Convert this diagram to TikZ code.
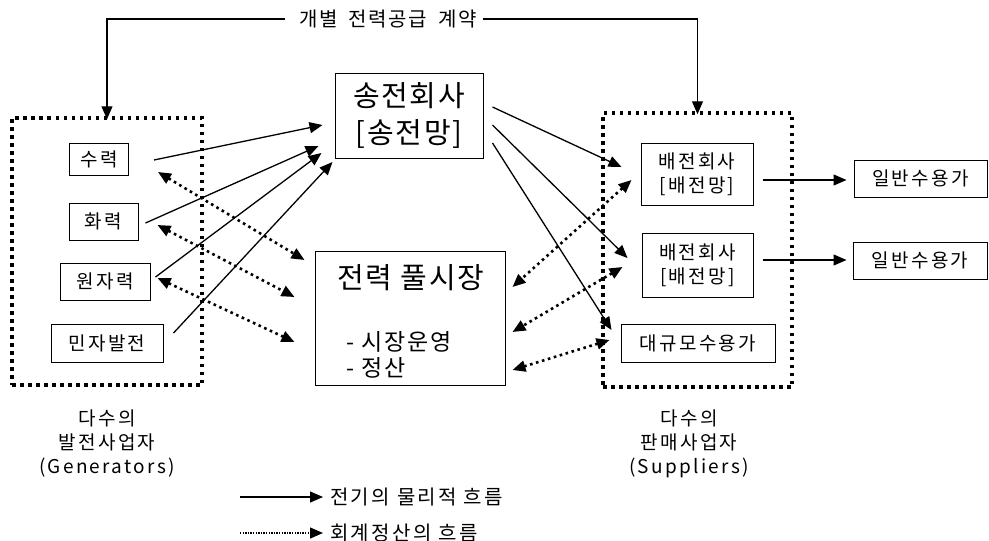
\documentclass[tikz,border=0pt]{standalone}
\usepackage{fontspec}
\setmainfont{Noto Sans CJK KR}
\usetikzlibrary{arrows.meta}
\newcommand\smallfnt{\fontsize{19}{24}\selectfont\addfontfeatures{LetterSpace=12}}
\newcommand\bigfnt{\fontsize{29}{37}\selectfont\addfontfeatures{LetterSpace=6}}
\newcommand\midfnt{\fontsize{23}{26}\selectfont\addfontfeatures{LetterSpace=8}}
\newcommand\legfnt{\fontsize{20}{24}\selectfont\addfontfeatures{LetterSpace=12}}
\begin{document}
\begin{tikzpicture}[x=1pt,y=-1pt,
  box/.style={draw, line width=1pt, inner sep=0pt, font=\smallfnt, align=center},
  dotbox/.style={draw, line width=3.5pt, dash pattern=on 3.5pt off 4.5pt, inner sep=0pt},
  flow/.style={line width=1.3pt, -{Triangle[length=13pt,width=11pt]}},
  money/.style={line width=2.6pt, dash pattern=on 2.6pt off 3.6pt,
     {Triangle[length=13pt,width=11pt]}-{Triangle[length=13pt,width=11pt]}},
  lbl/.style={font=\smallfnt, align=center, inner sep=0pt},
]
\useasboundingbox (0,0) rectangle (989,541);

% grouping boxes
\node[dotbox, minimum width=190pt, minimum height=267pt] (gen) at (107,251.5) {};
\node[dotbox, minimum width=189pt, minimum height=274pt] (sup) at (697.5,250) {};

% generator boxes
\node[box, minimum width=59pt, minimum height=32pt] (sr) at (99,159) {수력};
\node[box, minimum width=69pt, minimum height=37pt] (hr) at (103.5,221.5) {화력};
\node[box, minimum width=90pt, minimum height=37pt] (wj) at (105,281.5) {원자력};
\node[box, minimum width=112pt, minimum height=38pt] (mj) at (107,343) {민자발전};

% transmission company
\node[box, minimum width=148pt, minimum height=85pt, font=\bigfnt] (tc) at (409,115.5) {송전회사\\{[}송전망{]}};

% pool market
\node[box, minimum width=190pt, minimum height=134pt] (pool) at (410,318) {};
\node[inner sep=0pt, font=\bigfnt] (poolt) at (411,278) {전력 풀시장};
\node[inner sep=0pt, anchor=west, font=\midfnt] (pool1) at (346,342) {- 시장운영};
\node[inner sep=0pt, anchor=west, font=\midfnt] (pool2) at (346,368) {- 정산};

% suppliers
\node[box, minimum width=112pt, minimum height=62pt] (bj1) at (697,174) {배전회사\\{[}배전망{]}};
\node[box, minimum width=111pt, minimum height=64pt] (bj2) at (697.5,265) {배전회사\\{[}배전망{]}};
\node[box, minimum width=154pt, minimum height=38pt] (dk) at (698,343) {대규모수용가};
\node[box, minimum width=133pt, minimum height=37pt] (ib1) at (920.5,178.5) {일반수용가};
\node[box, minimum width=134pt, minimum height=37pt] (ib2) at (920,260.5) {일반수용가};

% top contract line
\node[lbl, font=\fontsize{20}{24}\selectfont\addfontfeatures{LetterSpace=8}] (contract) at (388,19) {개별\hspace{11pt}전력공급\hspace{11pt}계약};
\draw[flow] ([xshift=-14pt]contract.west) -| ([yshift=-3pt]gen.north);
\draw[flow] ([xshift=6pt]contract.east) -| ([yshift=-3pt]sup.north);

% physical flows generators -> transmission
\draw[flow] ([shift={(25,1)}]sr.east) -- ([shift={(-12,9.5)}]tc.west);
\draw[flow] ([shift={(7,1.5)}]hr.east) -- ([shift={(-16,30.5)}]tc.west);
\draw[flow] ([shift={(5,-4.5)}]wj.east) -- ([shift={(-13,37.5)}]tc.west);
\draw[flow] ([shift={(10,-10)}]mj.east) -- ([shift={(-2,46.5)}]tc.west);

% settlement flows generators <-> pool
\draw[money] ([shift={(29,13)}]sr.east) -- ([shift={(-10,-58)}]pool.west);
\draw[money] ([shift={(19,3.5)}]hr.east) -- ([shift={(-20,-21)}]pool.west);
\draw[money] ([shift={(7,-3.5)}]wj.east) -- ([shift={(-20,24)}]pool.west);

% physical flows transmission -> suppliers
\draw[flow] ([shift={(9,-8.5)}]tc.east) -- ([shift={(-19,-7)}]bj1.west);
\draw[flow] ([shift={(9,9.5)}]tc.east) -- ([shift={(-14,-7)}]bj2.west);
\draw[flow] ([shift={(9,27.5)}]tc.east) -- ([shift={(-9,-13)}]dk.west);

% settlement flows suppliers <-> pool
\draw[money] ([shift={(-9,6)}]bj1.west) -- ([shift={(7,-31)}]pool.east);
\draw[money] ([shift={(-19,2)}]bj2.west) -- ([shift={(7,14)}]pool.east);
\draw[money] ([shift={(-11,-3)}]dk.west) -- ([shift={(7,52)}]pool.east);

% distribution -> general customers
\draw[flow] ([shift={(9,6)}]bj1.east) -- ([shift={(-7,1.5)}]ib1.west);
\draw[flow] ([shift={(9,-5)}]bj2.east) -- ([shift={(-6,-0.5)}]ib2.west);

% group labels
\node[lbl] (genl) at (107,444) {다수의\\발전사업자\\(Generators)};
\node[lbl] (supl) at (689,444) {다수의\\판매사업자\\(Suppliers)};

% legend
\coordinate (l1s) at (240,497);
\node[lbl, font=\legfnt, anchor=west] (l1t) at (330,497) {전기의 물리적 흐름};
\draw[flow] (l1s) -- ([xshift=-7pt]l1t.west);
\coordinate (l2s) at (240,533);
\node[lbl, font=\legfnt, anchor=west] (l2t) at (330,533) {회계정산의 흐름};
\draw[line width=1.3pt, dash pattern=on 1.3pt off 1.3pt, -{Triangle[length=13pt,width=11pt]}] (l2s) -- ([xshift=-7pt]l2t.west);
\end{tikzpicture}
\end{document}
